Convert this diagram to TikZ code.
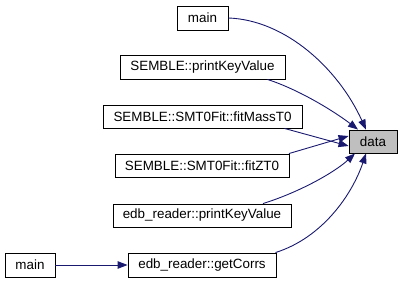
\documentclass[tikz,border=0pt]{standalone}
\usepackage{fontspec}
\setmainfont{Liberation Sans}
\usetikzlibrary{arrows.meta}
\definecolor{edgeblue}{HTML}{191970}
\definecolor{hlgray}{HTML}{BFBFBF}
\tikzset{
  fn/.style={draw=black, fill=white, line width=0.9pt, inner sep=0pt,
    font=\fontsize{13.4}{15}\selectfont},
  hl/.style={fn, fill=hlgray},
  call/.style={draw=edgeblue, line width=0.9pt,
    -{Triangle[length=10pt,width=7.5pt,fill=edgeblue]}},
}
\begin{document}
\begin{tikzpicture}[x=1pt,y=-1pt]
  \useasboundingbox (0,0) rectangle (403,283);
  % function boxes
  \node[fn, minimum width=51, minimum height=24] (m1) at (202.5,18) {main};
  \node[fn, minimum width=165, minimum height=24] (skv) at (202.5,67) {SEMBLE::printKeyValue};
  \node[fn, minimum width=199, minimum height=23] (smass) at (202.5,116.5) {SEMBLE::SMT0Fit::fitMassT0};
  \node[hl, minimum width=48, minimum height=23] (data) at (373,141.5) {data};
  \node[fn, minimum width=174, minimum height=23] (szt) at (202,165.5) {SEMBLE::SMT0Fit::fitZT0};
  \node[fn, minimum width=178, minimum height=23] (ekv) at (202,215.5) {edb\_reader::printKeyValue};
  \node[fn, minimum width=148, minimum height=24] (gc) at (202,265) {edb\_reader::getCorrs};
  \node[fn, minimum width=50, minimum height=24] (m2) at (30,265) {main};
  % call edges into data
  \draw[call] (m1.east) .. controls (285,20) and (338,68) .. ([xshift=-7pt]data.north);
  \draw[call] ([xshift=65pt]skv.south) .. controls (300,90) and (335,112) .. ([xshift=-15pt]data.north);
  \draw[call] ([xshift=82pt]smass.south) -- ([yshift=-4.5pt]data.west);
  \draw[call] ([xshift=-0.5pt]szt.north east) -- ([yshift=5.5pt]data.west);
  \draw[call] ([xshift=61pt]ekv.north) .. controls (300,192) and (335,172) .. ([xshift=-18pt]data.south);
  \draw[call] ([xshift=-1pt]gc.north east) .. controls (322,238) and (352,195) .. ([xshift=-7pt]data.south);
  % caller of getCorrs
  \draw[call] (m2.east) -- (gc.west);
\end{tikzpicture}
\end{document}
